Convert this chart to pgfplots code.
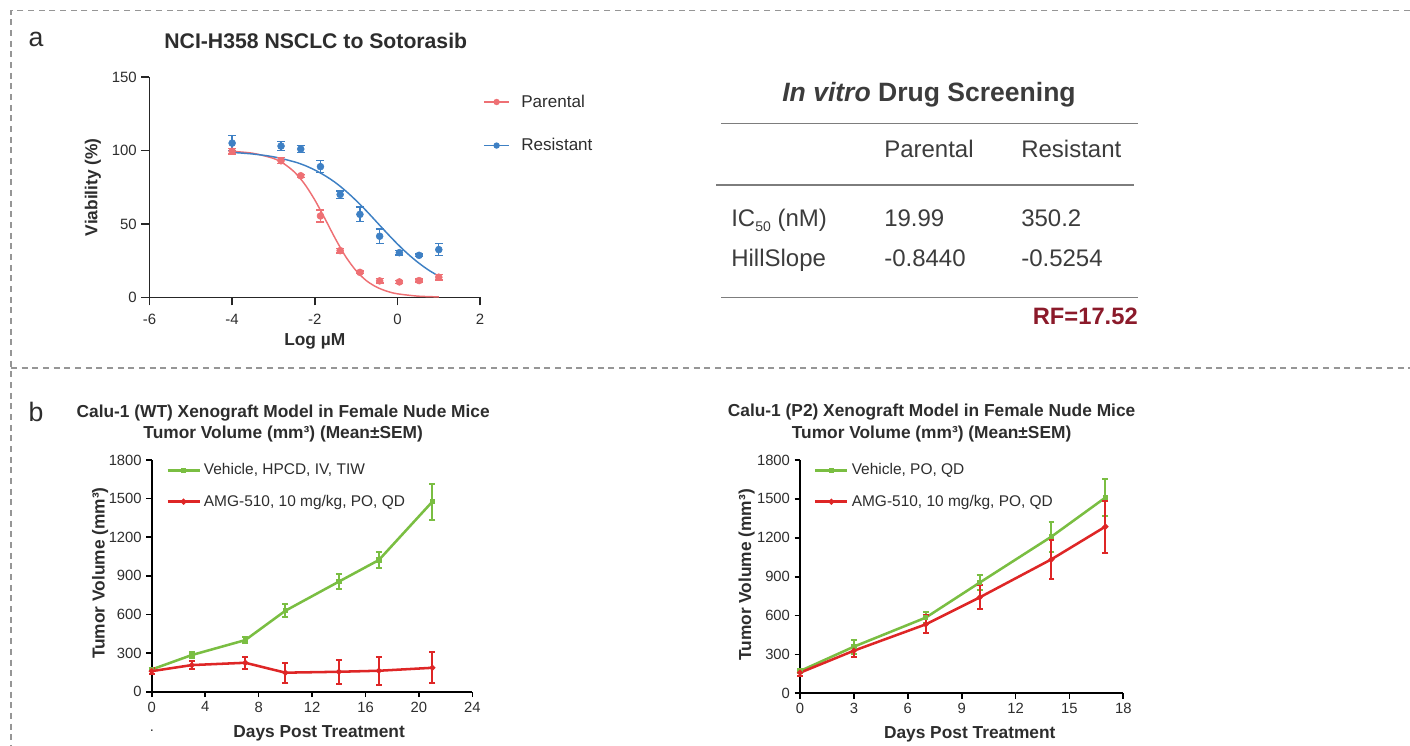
\documentclass[border=0pt]{standalone}
\usepackage{fontspec}
\setmainfont{Liberation Sans}
\usepackage{pgfplots}
\pgfplotsset{compat=1.18}
\definecolor{aRed}{RGB}{238,112,116}
\definecolor{aBlue}{RGB}{62,128,196}
\definecolor{bGreen}{RGB}{122,190,66}
\definecolor{bRed}{RGB}{222,38,38}
\definecolor{txt}{RGB}{45,45,45}
\definecolor{tbl}{RGB}{60,60,60}
\definecolor{rule}{RGB}{125,125,125}
\definecolor{rfred}{RGB}{139,26,42}
\definecolor{dashgray}{RGB}{150,150,150}

\pgfplotstableread{
x y e
-4 99.5 2
-2.817 93 2
-2.340 82.8 1
-1.863 55.4 4
-1.386 31.8 1.5
-0.908 17 1
-0.431 11.2 1.5
0.046 10.5 1
0.523 11.4 1
1.000 13.7 2
}\parpts
\pgfplotstableread{
x y e
-4 105 5
-2.817 103 3
-2.340 101 2.5
-1.863 89 4
-1.386 70 2.5
-0.908 56.5 5
-0.431 41.6 5
0.046 30.4 1.5
0.523 28.6 1
1.000 32.5 4
}\respts
\pgfplotstableread{
x y
-4 99.4
-3.5 98.1
-3 94.6
-2.75 91.0
-2.5 85.5
-2.25 77.3
-2 66.3
-1.75 53.3
-1.5 39.8
-1.25 27.6
-1 18.1
-0.75 11.3
-0.5 6.9
-0.25 4.1
0 2.4
0.5 0.8
1 0.3
}\parfit
\pgfplotstableread{
x y
-4 98.7
-3.5 97.6
-3 95.7
-2.5 92.3
-2.25 89.9
-2 86.7
-1.75 82.8
-1.5 78.1
-1.25 72.4
-1 65.9
-0.75 58.8
-0.5 51.2
-0.25 43.6
0 36.3
0.25 29.6
0.5 23.7
0.75 18.6
1 14.4
}\resfit
\pgfplotstableread{
x y e
0 173 15
3 285 25
7 401 25
10 629 52
14 855 58
17 1023 65
21 1476 140
}\wtveh
\pgfplotstableread{
x y e
0 160 25
3 207 30
7 225 45
10 148 78
14 155 95
17 163 108
21 186 119
}\wtamg
\pgfplotstableread{
x y e
0 172 15
3 360 54
7 584 45
10 854 58
14 1209 115
17 1510 145
}\ptveh
\pgfplotstableread{
x y e
0 159 25
3 329 45
7 532 70
10 740 93
14 1034 150
17 1286 200
}\ptamg

\pgfplotsset{
  every axis title shift=0pt,
  bstyle/.style={
    scale only axis, anchor=south west, clip=false,
    axis x line*=bottom, axis y line*=left,
    xtick pos=bottom, ytick pos=left,
    axis line style={line width=1.5pt, black},
    tick align=outside, major tick length=4pt,
    tick style={line width=1.3pt, black},
    ticklabel style={font=\fontsize{11.1}{12}\selectfont, text=txt},
    /pgf/number format/assume math mode=true,
    /pgf/number format/1000 sep={},
    ymin=0, ymax=1800, ytick={0,300,...,1800},
    title style={font=\bfseries\fontsize{13}{16.1}\selectfont, text=txt, align=center, anchor=south, inner sep=0pt},
    xlabel style={font=\bfseries\fontsize{13}{15}\selectfont, text=txt, anchor=base},
    ylabel style={font=\bfseries\fontsize{13}{15}\selectfont, text=txt, anchor=center},
    legend style={draw=none, fill=none, anchor=north west, inner sep=0pt, font=\fontsize{11.6}{13}\selectfont, text=txt, row sep=13.6pt, nodes={inner sep=0pt}},
    legend cell align=left,
    /tikz/every odd column/.append style={column sep=2.3pt},
    legend image code/.code={\draw[mark repeat=2,mark phase=2,#1] plot coordinates {(0pt,0pt) (12pt,0pt) (24pt,0pt)};},
  },
  bplot/.style={line width=1.9pt, mark size=1.1pt, forget plot,
    error bars/.cd, y dir=both, y explicit,
    error bar style={line width=1.5pt},
    error mark options={rotate=90, mark size=2.2pt, line width=1.5pt}},
}

\begin{document}
\begin{tikzpicture}
\useasboundingbox (0,0) rectangle (1057.5pt,559.5pt);
\begin{scope}[shift={(0pt,559.5pt)},x=0.75pt,y=-0.75pt]
  \draw[dashgray, line width=1pt, dash pattern=on 4.5pt off 3.5pt] (1410,10.5) -- (11,10.5) -- (11,746);
  \draw[dashgray, line width=1pt, dash pattern=on 4.5pt off 3.5pt] (11,368) -- (1410,368);
  \node[font=\fontsize{20}{24}\selectfont, text=txt] at (36,39) {a};
  \node[font=\fontsize{20}{24}\selectfont, text=txt] at (36,411.5) {b};
  \node[font=\fontsize{11}{12}\selectfont, text=txt] at (152,731) {.};
  % table
  \node[anchor=base, font=\bfseries\fontsize{19.9}{22}\selectfont, text=tbl] at (929,101.7) {\textit{In vitro} Drug Screening};
  \draw[rule, line width=1.1pt] (721,123.5) -- (1138,123.5);
  \draw[rule, line width=1.1pt] (716,185) -- (1134,185);
  \draw[rule, line width=1.1pt] (721,297.7) -- (1138,297.7);
  \begin{scope}[every node/.style={anchor=base west, inner sep=0pt, font=\fontsize{18}{20}\selectfont, text=tbl}]
    \node at (884,157.3) {Parental};
    \node at (1021,157.3) {Resistant};
    \node at (731,226.7) {IC\raisebox{-0.35ex}{\fontsize{10.5}{11}\selectfont 50} (nM)};
    \node at (884,226.7) {19.99};
    \node at (1021,226.7) {350.2};
    \node at (731,266.7) {HillSlope};
    \node at (884,266.7) {-0.8440};
    \node at (1021,266.7) {-0.5254};
  \end{scope}
  \node[anchor=base east, inner sep=0pt, font=\bfseries\fontsize{17.8}{20}\selectfont, text=rfred] at (1138,325) {RF=17.52};
\end{scope}

% ---------- panel a ----------
\begin{axis}[
  at={(112.1pt,336.5pt)}, anchor=south west, scale only axis,
  width=248pt, height=165.2pt, clip=false,
  xmin=-6, xmax=2, ymin=0, ymax=150,
  axis x line*=bottom, axis y line*=left,
  xtick pos=bottom, ytick pos=left,
  xtick={-6,-4,...,2}, ytick={0,50,100,150},
  axis line style={line width=1.1pt, black!85},
  tick align=outside, major tick length=6pt,
  tick style={line width=1.1pt, black!85},
  ticklabel style={font=\fontsize{11.2}{12}\selectfont, text=txt},
  xticklabel style={yshift=-3pt},
  /pgf/number format/assume math mode=true,
  title={NCI-H358 NSCLC to Sotorasib},
  title style={font=\bfseries\fontsize{15.9}{18}\selectfont, text=txt, anchor=base, at={(axis description cs:0.503,1.1285)}},
  xlabel={Log µM},
  xlabel style={font=\bfseries\fontsize{13}{15}\selectfont, text=txt, anchor=base, at={(axis description cs:0.5,-0.2174)}},
  ylabel={Viability (\%)},
  ylabel style={font=\bfseries\fontsize{13}{15}\selectfont, text=txt, anchor=center, at={(axis description cs:-0.171,0.5)}},
  legend style={draw=none, fill=none, at={(axis description cs:1.0085,0.9206)}, anchor=north west, inner sep=0pt,
    font=\fontsize{12.8}{14}\selectfont, text=txt, row sep=21.9pt, nodes={inner sep=0pt}},
  legend cell align=left,
  /tikz/every odd column/.append style={column sep=8.5pt},
  legend image code/.code={\draw[mark repeat=2,mark phase=2,#1] plot coordinates {(0pt,0pt) (9.5pt,0pt) (19pt,0pt)};},
]
\addlegendimage{aRed, line width=1.1pt, mark=*, mark size=1.8pt}
\addlegendentry{Parental}
\addlegendimage{aBlue, line width=1.1pt, mark=*, mark size=1.8pt}
\addlegendentry{Resistant}
\addplot[aRed, line width=1.1pt, smooth, forget plot] table[x=x,y=y] {\parfit};
\addplot[aBlue, line width=1.1pt, smooth, forget plot] table[x=x,y=y] {\resfit};
\addplot[only marks, mark=*, mark size=2.6pt, aRed, forget plot,
  error bars/.cd, y dir=both, y explicit, error bar style={line width=1pt},
  error mark options={rotate=90, mark size=3pt, line width=1pt}]
  table[x=x,y=y,y error=e] {\parpts};
\addplot[only marks, mark=*, mark size=2.6pt, aBlue, forget plot,
  error bars/.cd, y dir=both, y explicit, error bar style={line width=1pt},
  error mark options={rotate=90, mark size=3pt, line width=1pt}]
  table[x=x,y=y,y error=e] {\respts};
\end{axis}

% ---------- panel b left ----------
\begin{axis}[bstyle,
  at={(113.8pt,40.7pt)}, width=240.5pt, height=173.8pt,
  xmin=0, xmax=24, xtick={0,4,...,24},
  title={Calu-1 (WT) Xenograft Model in Female Nude Mice\\Tumor Volume (mm³) (Mean±SEM)},
  title style={at={(axis description cs:0.41,1.076)}},
  xlabel={Days Post Treatment}, xlabel style={at={(axis description cs:0.522,-0.1955)}},
  ylabel={Tumor Volume (mm³)}, ylabel style={at={(axis description cs:-0.161,0.512)}},
  legend style={at={(axis description cs:0.0446,0.985)}},
]
\addlegendimage{bGreen, line width=1.9pt, mark=square*, mark size=1.1pt}
\addlegendentry{Vehicle, HPCD, IV, TIW}
\addlegendimage{bRed, line width=1.9pt, mark=*, mark size=1.1pt}
\addlegendentry{AMG-510, 10 mg/kg, PO, QD}
\addplot[bGreen, mark=square*, bplot] table[x=x,y=y,y error=e] {\wtveh};
\addplot[bRed, mark=*, bplot] table[x=x,y=y,y error=e] {\wtamg};
\end{axis}

% ---------- panel b right ----------
\begin{axis}[bstyle,
  at={(600pt,39.5pt)}, width=242.5pt, height=175pt,
  xmin=0, xmax=18, xtick={0,3,...,18},
  title={Calu-1 (P2) Xenograft Model in Female Nude Mice\\Tumor Volume (mm³) (Mean±SEM)},
  title style={at={(axis description cs:0.407,1.076)}},
  xlabel={Days Post Treatment}, xlabel style={at={(axis description cs:0.525,-0.1916)}},
  ylabel={Tumor Volume (mm³)}, ylabel style={at={(axis description cs:-0.165,0.507)}},
  legend style={at={(axis description cs:0.043,0.985)}},
]
\addlegendimage{bGreen, line width=1.9pt, mark=square*, mark size=1.1pt}
\addlegendentry{Vehicle, PO, QD}
\addlegendimage{bRed, line width=1.9pt, mark=*, mark size=1.1pt}
\addlegendentry{AMG-510, 10 mg/kg, PO, QD}
\addplot[bGreen, mark=square*, bplot] table[x=x,y=y,y error=e] {\ptveh};
\addplot[bRed, mark=*, bplot] table[x=x,y=y,y error=e] {\ptamg};
\end{axis}
\end{tikzpicture}
\end{document}
